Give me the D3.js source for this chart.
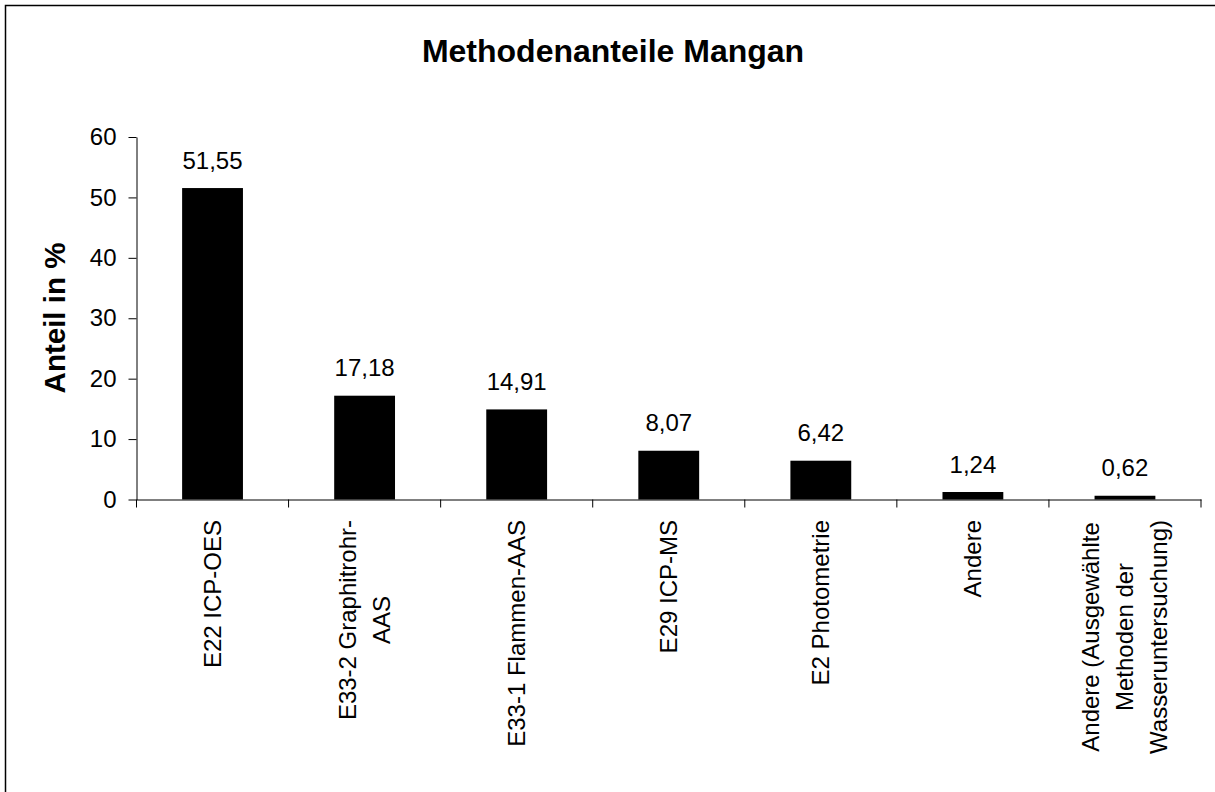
<!DOCTYPE html>
<html>
<head>
<meta charset="utf-8">
<script src="https://cdn.jsdelivr.net/npm/d3@7"></script>
<style>
body { margin: 0; background: #fff; }
svg { display: block; }
text { font-family: "Liberation Sans", Arial, sans-serif; fill: #000; }
</style>
</head>
<body>
<div id="chart"></div>
<script>
// Daten
var categories = ["E22 ICP-OES", "E33-2 Graphitrohr-AAS", "E33-1 Flammen-AAS", "E29 ICP-MS",
                  "E2 Photometrie", "Andere", "Andere (Ausgewählte Methoden der Wasseruntersuchung)"];
var labelLines = [["E22 ICP-OES"], ["E33-2 Graphitrohr-", "AAS"], ["E33-1 Flammen-AAS"], ["E29 ICP-MS"],
                  ["E2 Photometrie"], ["Andere"], ["Andere (Ausgewählte", "Methoden der", "Wasseruntersuchung)"]];
var values = [51.55, 17.18, 14.91, 8.07, 6.42, 1.24, 0.62];
var yTicks = [0, 10, 20, 30, 40, 50, 60];

var w = 1215, h = 792;
var plotLeft = 136.5, plotRight = 1201, plotTop = 137, plotBottom = 499.5;
var fs = 24, lineH = 34;

var svg = d3.select("#chart").append("svg").attr("width", w).attr("height", h);

// Rahmen (rechts/unten ausserhalb des Bildes)
svg.append("rect").attr("x", 5.5).attr("y", 5.5).attr("width", 1400).attr("height", 1000)
   .style("fill", "none").style("stroke", "#000").style("stroke-width", 1.5);

var x = d3.scaleBand().domain(categories).range([plotLeft, plotRight]).paddingInner(0).paddingOuter(0);
var y = d3.scaleLinear().domain([0, 60]).range([plotBottom, plotTop]);
var bw = x.bandwidth();

var fmt = d3.formatLocale({decimal: ",", thousands: ".", grouping: [3], currency: ["", " €"]}).format(".2f");

// Titel
svg.append("text").attr("x", 613).attr("y", 62).attr("text-anchor", "middle")
   .style("font-size", "32px").style("font-weight", "bold").text("Methodenanteile Mangan");

// y-Achse
var yAxis = d3.axisLeft(y).tickValues(yTicks).tickSize(8).tickSizeOuter(0).tickPadding(12);
var gy = svg.append("g").attr("transform", "translate(" + plotLeft + ",0)").call(yAxis);
gy.selectAll("text").style("font-size", fs + "px").style("font-family", "'Liberation Sans', Arial, sans-serif").attr("fill", "#000");
gy.selectAll("line,path").attr("stroke", "#000");

svg.append("text").attr("transform", "translate(65,318) rotate(-90)")
   .attr("text-anchor", "middle").style("font-size", "29.5px").style("font-weight", "bold").text("Anteil in %");

// Balken
svg.selectAll("rect.bar").data(values).enter().append("rect").attr("class", "bar")
   .attr("x", function(d, i) { return x(categories[i]) + bw * 0.3; })
   .attr("width", bw * 0.4)
   .attr("y", function(d) { return y(d); })
   .attr("height", function(d) { return y(0) - y(d); })
   .style("fill", "#000");

// x-Achse
var xAxis = d3.axisBottom(x).tickSize(0).tickSizeOuter(0).tickFormat("");
var gx = svg.append("g").attr("transform", "translate(0," + plotBottom + ")").call(xAxis);
gx.selectAll("path").attr("stroke", "#000");
var bounds = categories.map(function(c) { return x(c); }).concat([x(categories[categories.length - 1]) + bw]);
gx.selectAll("line.bt").data(bounds).enter().append("line").attr("class", "bt")
  .attr("x1", function(d) { return d; }).attr("x2", function(d) { return d; })
  .attr("y1", 0).attr("y2", 8).attr("stroke", "#000");

// Werte
svg.selectAll("text.val").data(values).enter().append("text").attr("class", "val")
   .attr("x", function(d, i) { return x(categories[i]) + bw / 2; })
   .attr("y", function(d) { return y(d) - 19.5; })
   .attr("text-anchor", "middle").style("font-size", fs + "px")
   .text(function(d) { return fmt(d); });

// Kategorienbeschriftung
labelLines.forEach(function(lines, i) {
  var g = svg.append("g")
    .attr("transform", "translate(" + (x(categories[i]) + bw / 2) + ",520) rotate(-90)");
  var n = lines.length;
  var ts = g.selectAll("text").data(lines).enter().append("text")
    .attr("text-anchor", "middle")
    .attr("y", function(d, j) { return (j - (n - 1) / 2) * lineH; })
    .attr("dy", "0.35em")
    .style("font-size", fs + "px")
    .text(function(d) { return d; });
  var maxW = 0;
  ts.each(function() { maxW = Math.max(maxW, this.getComputedTextLength()); });
  ts.attr("x", -maxW / 2);
});
</script>
</body>
</html>
